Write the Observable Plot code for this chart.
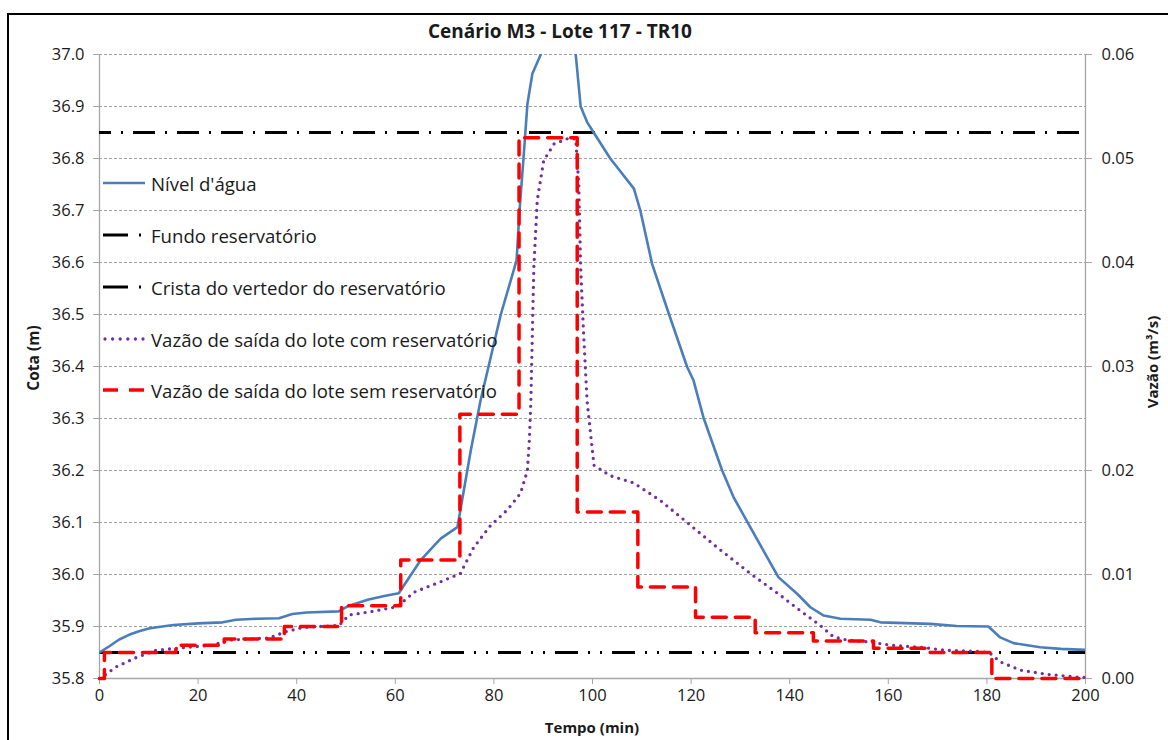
<!DOCTYPE html>
<html><head><meta charset="utf-8">
<script src="https://cdn.jsdelivr.net/npm/d3@7"></script>
<script src="https://cdn.jsdelivr.net/npm/@observablehq/plot@0.6"></script>
<style>
html,body{margin:0;padding:0;background:#fff;overflow:hidden;width:1168px;height:740px;}
#wrap{position:relative;width:1168px;height:740px;font-family:"Open Sans",sans-serif;color:#1a1a1a;}
#frame{position:absolute;left:7px;top:13px;width:1300px;height:900px;border:2px solid #000;}
#chart{position:absolute;left:0;top:0;}
#title{position:absolute;left:360px;width:400px;top:16px;text-align:center;font-weight:bold;font-size:19px;line-height:30px;}
.axt{position:absolute;font-weight:bold;font-size:15px;white-space:nowrap;}
#xt{left:492px;width:200px;text-align:center;top:715px;line-height:24px;}
#yl{left:33px;top:358px;transform:translate(-50%,-50%) rotate(-90deg);font-size:15.5px;}
#yr{left:1152px;top:362px;transform:translate(-50%,-50%) rotate(-90deg);}
#legend{position:absolute;left:102px;top:0;}
.li{position:absolute;left:0;height:26px;display:flex;align-items:center;white-space:nowrap;font-size:18.6px;}
.li svg{margin-right:5px;}
</style></head>
<body><div id="wrap">
<div id="frame"></div>
<div id="chart"></div>
<div id="title">Cenário M3 - Lote 117 - TR10</div>
<div class="axt" id="xt">Tempo (min)</div>
<div class="axt" id="yl">Cota (m)</div>
<div class="axt" id="yr">Vazão (m³/s)</div>
<div id="legend"></div>
</div>
<script>
// ---- data ----
const nivelT = [0, 2, 4, 6, 8, 10, 12, 15, 20, 25, 27.7, 32, 36.4, 39.1, 42, 48.5, 50.6, 54.6, 58, 60.7, 65.1, 69.2, 72.6, 75.3, 77.3, 81.4, 84.6, 85.2, 86.0, 86.8, 87.8, 89.5, 91, 93, 95, 96.6, 97.6, 98.9, 100.3, 103.6, 108.4, 109.7, 112.1, 115.5, 119.2, 120.5, 122.5, 126.3, 128.6, 132.0, 137.7, 141.5, 144.2, 146.9, 150.3, 156.4, 158.4, 168.5, 173.9, 180.3, 182.7, 185.4, 190.8, 195, 200];
const nivelM = [35.850, 35.862, 35.875, 35.884, 35.891, 35.896, 35.899, 35.903, 35.906, 35.908, 35.913, 35.915, 35.916, 35.924, 35.927, 35.929, 35.940, 35.952, 35.959, 35.964, 36.027, 36.069, 36.091, 36.238, 36.335, 36.500, 36.604, 36.700, 36.800, 36.905, 36.963, 37.000, 37.050, 37.080, 37.060, 37.000, 36.900, 36.870, 36.849, 36.800, 36.742, 36.700, 36.597, 36.501, 36.399, 36.373, 36.302, 36.200, 36.149, 36.091, 35.995, 35.963, 35.937, 35.921, 35.915, 35.913, 35.908, 35.905, 35.901, 35.900, 35.879, 35.868, 35.860, 35.857, 35.855];

const comT = [0, 1, 3.3, 7.4, 11.4, 15.5, 22.9, 26.3, 34.4, 37.8, 41.2, 48.6, 50.6, 54.7, 60.4, 63.8, 69.2, 73.2, 75.9, 79.3, 82.7, 85.4, 86.8, 87.2, 87.5, 87.8, 88.1, 88.8, 90.1, 92.2, 94.9, 96.6, 97.2, 97.6, 98.2, 98.9, 100.3, 103.6, 108.4, 113.8, 119.2, 125.3, 132.0, 138.1, 142.2, 146.2, 148.9, 151.6, 156.4, 160.5, 166.6, 171.9, 178.7, 180.7, 182.7, 186.8, 192.2, 198.9, 200];
const comQ = [0, 0.0003, 0.0011, 0.0020, 0.0027, 0.0029, 0.0032, 0.0037, 0.0039, 0.0045, 0.0049, 0.0051, 0.0061, 0.0064, 0.0069, 0.0083, 0.0093, 0.0101, 0.0126, 0.0147, 0.0162, 0.0178, 0.0200, 0.0230, 0.0267, 0.0331, 0.0395, 0.0460, 0.0498, 0.0514, 0.0519, 0.0519, 0.0476, 0.0395, 0.0331, 0.0267, 0.0205, 0.0195, 0.0188, 0.0171, 0.0150, 0.0126, 0.0101, 0.0080, 0.0065, 0.0051, 0.0040, 0.0037, 0.0035, 0.0032, 0.0030, 0.0027, 0.0026, 0.0024, 0.0016, 0.0008, 0.0004, 0.0001, 0.0001];

const semT = [0, 1, 15.5, 25.3, 37.5, 49.1, 61.1, 73.1, 85.1, 96.9, 109.2, 120.9, 133.0, 144.8, 157.0, 168.5, 181.0, 200];
const semQ = [0, 0.0025, 0.0032, 0.0038, 0.0050, 0.0070, 0.0114, 0.0254, 0.0520, 0.0160, 0.0088, 0.0059, 0.0044, 0.0036, 0.0029, 0.0025, 0, 0];

const fundo = [35.85];
const crista = [36.85];

const cotaTicks = [35.8, 35.9, 36.0, 36.1, 36.2, 36.3, 36.4, 36.5, 36.6, 36.7, 36.8, 36.9, 37.0];
const vazaoTicks = [0, 0.01, 0.02, 0.03, 0.04, 0.05, 0.06];
const tempoTicks = [0, 20, 40, 60, 80, 100, 120, 140, 160, 180, 200];

const legendItems = ["Nível d'água", "Fundo reservatório", "Crista do vertedor do reservatório", "Vazão de saída do lote com reservatório", "Vazão de saída do lote sem reservatório"];

// ---- build ----
const toM = q => 35.8 + q * 20;
const nivel = nivelT.map((t, i) => ({t, v: nivelM[i]}));
const com = comT.map((t, i) => ({t, v: toM(comQ[i])}));
const sem = semT.map((t, i) => ({t, v: toM(semQ[i])}));

const C_BLUE = "#4a7ebb", C_PURPLE = "#7030a0", C_RED = "#ff0000", C_GRID = "#a0a0a0", C_AXIS = "#a6a6a6";

const chart = Plot.plot({
  width: 1168, height: 740,
  marginTop: 54, marginBottom: 62, marginLeft: 99, marginRight: 83,
  x: {domain: [tempoTicks[0], tempoTicks[tempoTicks.length - 1]]},
  y: {domain: [cotaTicks[0], cotaTicks[cotaTicks.length - 1]]},
  style: {fontFamily: "Open Sans", fontSize: "16.5px", background: "transparent", color: "#1a1a1a"},
  marks: [
    Plot.ruleY(cotaTicks.slice(1), {stroke: C_GRID, strokeWidth: 1, strokeDasharray: "3,2"}),
    Plot.ruleX([tempoTicks[0], tempoTicks[tempoTicks.length - 1]], {stroke: C_AXIS, strokeWidth: 1.3}),
    Plot.ruleY([cotaTicks[0]], {stroke: C_AXIS, strokeWidth: 1.3}),
    Plot.axisY(cotaTicks, {anchor: "left", tickSize: 6, tickPadding: 9, tickFormat: d => d.toFixed(1), stroke: C_AXIS, fill: "#1a1a1a", label: null}),
    Plot.axisY(vazaoTicks.map(toM), {anchor: "right", tickSize: 6, tickPadding: 10, tickFormat: m => ((m - 35.8) / 20).toFixed(2), stroke: C_AXIS, fill: "#1a1a1a", label: null}),
    Plot.axisX(tempoTicks, {anchor: "bottom", tickSize: 6, tickPadding: 5, stroke: C_AXIS, fill: "#1a1a1a", label: null}),
    Plot.ruleY(fundo, {stroke: "#000", strokeWidth: 3, strokeDasharray: "23,10,2,10,2,10"}),
    Plot.ruleY(crista, {stroke: "#000", strokeWidth: 3, strokeDasharray: "22,10,2,10", strokeDashoffset: 10}),
    Plot.line(nivel, {x: "t", y: "v", stroke: C_BLUE, strokeWidth: 2.6, clip: true}),
    Plot.line(com, {x: "t", y: "v", stroke: C_PURPLE, strokeWidth: 3.3, strokeDasharray: "0,7", strokeLinecap: "round"}),
    Plot.line(sem, {x: "t", y: "v", curve: "step-after", stroke: C_RED, strokeWidth: 3.5, strokeDasharray: "14,9"})
  ]
});
document.getElementById("chart").appendChild(chart);

// legend (HTML overlay)
const samples = [
  `<line x1="1" x2="43" y1="6" y2="6" stroke="${C_BLUE}" stroke-width="2.6"/>`,
  `<line x1="1" x2="26" y1="6" y2="6" stroke="#000" stroke-width="3"/><line x1="37" x2="39" y1="6" y2="6" stroke="#000" stroke-width="3"/>`,
  `<line x1="1" x2="26" y1="6" y2="6" stroke="#000" stroke-width="3"/><line x1="37" x2="39" y1="6" y2="6" stroke="#000" stroke-width="3"/>`,
  `<line x1="3" x2="42" y1="6" y2="6" stroke="${C_PURPLE}" stroke-width="3.3" stroke-dasharray="0,7.6" stroke-linecap="round"/>`,
  `<line x1="1" x2="16" y1="6" y2="6" stroke="${C_RED}" stroke-width="3.5"/><line x1="27" x2="42" y1="6" y2="6" stroke="${C_RED}" stroke-width="3.5"/>`
];
const legendTops = [183, 235, 287, 339, 390];
const lg = document.getElementById("legend");
legendItems.forEach((name, i) => {
  const d = document.createElement("div");
  d.className = "li";
  d.style.top = (legendTops[i] - 13) + "px";
  d.innerHTML = `<svg width="44" height="12">${samples[i]}</svg><span>${name}</span>`;
  lg.appendChild(d);
});
</script>
</body></html>
